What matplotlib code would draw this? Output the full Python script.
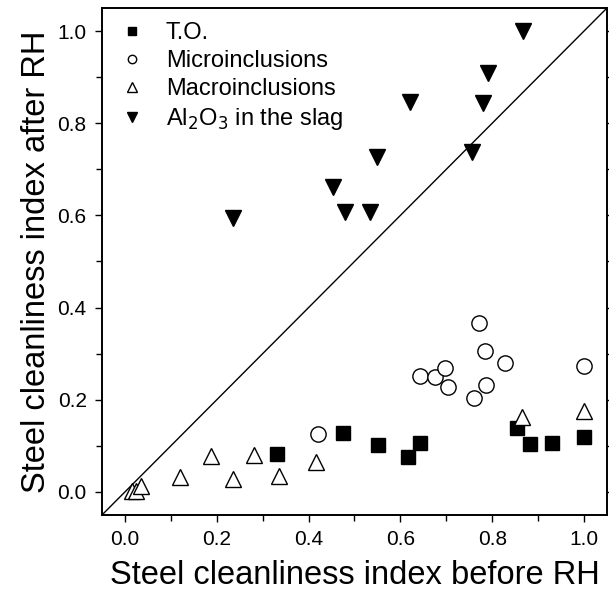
import numpy as np
import matplotlib.pyplot as plt
from matplotlib.ticker import MultipleLocator

plt.rcParams['font.family'] = ['Liberation Sans', 'DejaVu Sans']

# T.O.
to_x = [0.332, 0.474, 0.552, 0.616, 0.642, 0.854, 0.882, 0.930, 1.000]
to_y = [0.083, 0.127, 0.101, 0.075, 0.107, 0.138, 0.103, 0.107, 0.120]

# Microinclusions
mic_x = [0.421, 0.642, 0.675, 0.697, 0.703, 0.760, 0.771, 0.784, 0.786, 0.828, 1.000]
mic_y = [0.125, 0.252, 0.250, 0.268, 0.228, 0.204, 0.366, 0.305, 0.232, 0.279, 0.274]

# Macroinclusions
mac_x = [0.015, 0.025, 0.035, 0.120, 0.188, 0.236, 0.282, 0.336, 0.417, 0.865, 1.000]
mac_y = [0.003, 0.003, 0.012, 0.033, 0.077, 0.028, 0.081, 0.035, 0.065, 0.162, 0.175]

# Al2O3 in the slag
al_x = [0.236, 0.454, 0.480, 0.533, 0.550, 0.620, 0.757, 0.780, 0.790, 0.867]
al_y = [0.595, 0.662, 0.607, 0.607, 0.726, 0.846, 0.737, 0.844, 0.908, 1.000]

fig = plt.figure(figsize=(6.09, 5.96), dpi=100)
ax = fig.add_axes([0.1675, 0.136, 0.8292, 0.8506])

# 1:1 line
ax.plot([-0.05, 1.05], [-0.05, 1.05], color='black', lw=1.0)

ax.plot(to_x, to_y, 's', ms=10, color='black', mec='black', label='T.O.')
ax.plot(mic_x, mic_y, 'o', ms=11, mfc='white', mec='black', mew=1.0, label='Microinclusions')
ax.plot(mac_x, mac_y, '^', ms=12, mfc='white', mec='black', mew=1.0, label='Macroinclusions')
ax.plot(al_x, al_y, 'v', ms=12, color='black', label='Al$_2$O$_3$ in the slag')

ax.set_xlim(-0.05, 1.05)
ax.set_ylim(-0.05, 1.05)
ax.xaxis.set_major_locator(MultipleLocator(0.2))
ax.xaxis.set_minor_locator(MultipleLocator(0.1))
ax.yaxis.set_major_locator(MultipleLocator(0.2))
ax.yaxis.set_minor_locator(MultipleLocator(0.1))
ax.xaxis.set_major_formatter(plt.FormatStrFormatter('%.1f'))
ax.yaxis.set_major_formatter(plt.FormatStrFormatter('%.1f'))
ax.tick_params(which='both', direction='out', right=True, top=False, labelsize=15, width=1.0)
ax.tick_params(which='major', length=5, pad=6)
ax.tick_params(which='minor', length=4)
for s in ax.spines.values():
    s.set_linewidth(1.4)

ax.set_xlabel('Steel cleanliness index before RH', fontsize=23.5, labelpad=8)
ax.set_ylabel('Steel cleanliness index after RH', fontsize=23.5, labelpad=4)

ax.legend(loc='upper left', frameon=False, fontsize=17, markerscale=0.55,
          handletextpad=0.8, labelspacing=0.25, borderaxespad=0.3,
          handlelength=1.3, borderpad=0.3)

fig.savefig('out.png', dpi=100)
